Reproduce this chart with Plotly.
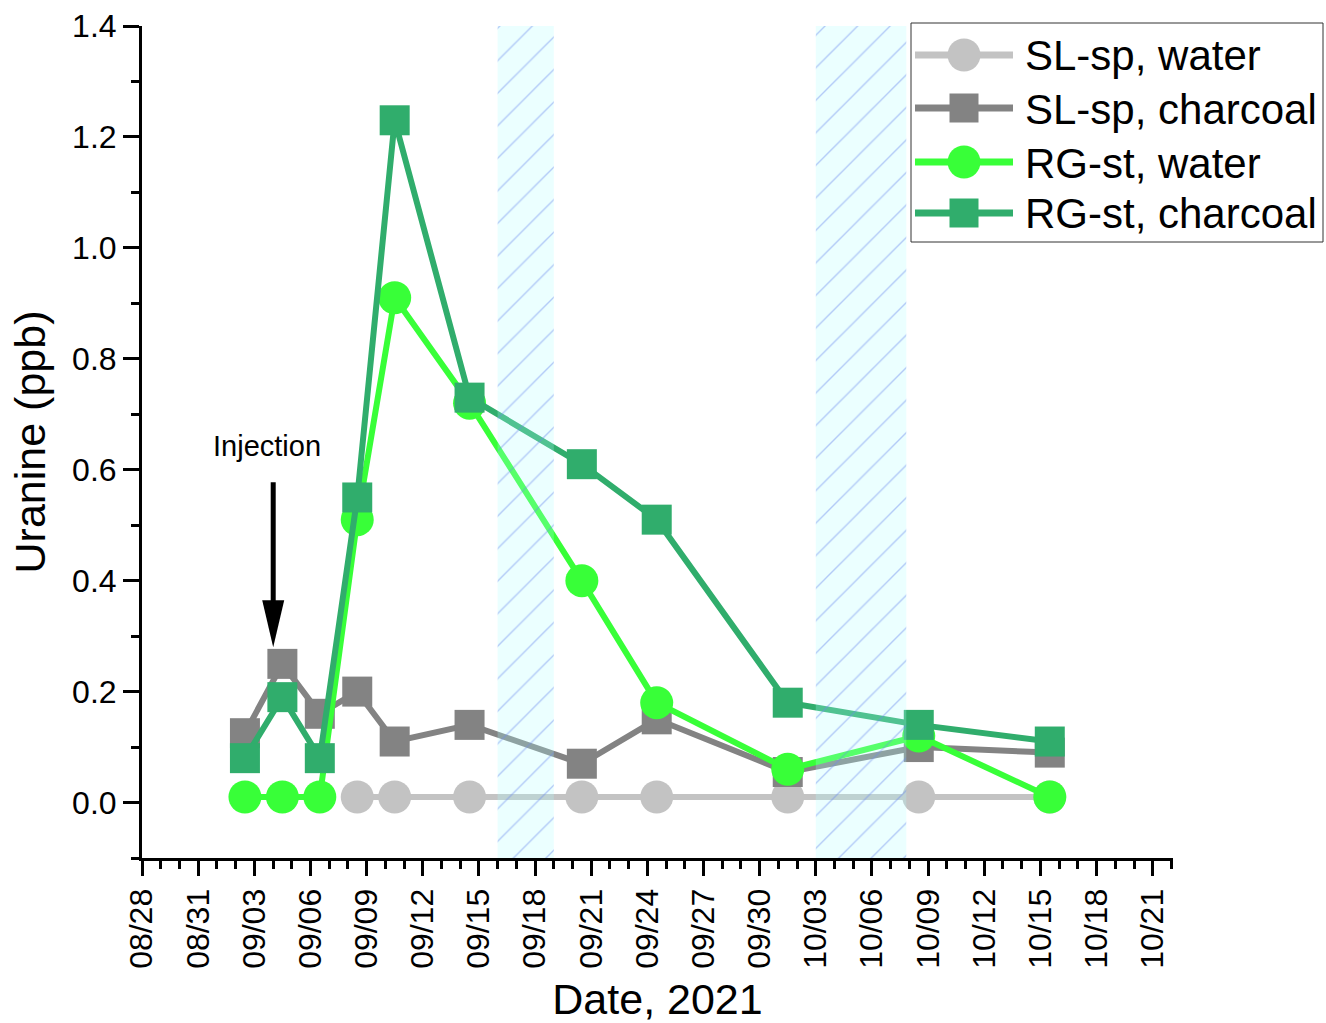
import plotly.graph_objects as go

# ---- data ----
sample_dates = ["2021-09-02 12:00", "2021-09-04 12:00", "2021-09-06 12:00", "2021-09-08 12:00",
                "2021-09-10 12:00", "2021-09-14 12:00", "2021-09-20 12:00", "2021-09-24 12:00",
                "2021-10-01 12:00", "2021-10-08 12:00", "2021-10-15 12:00"]

sl_water_dates = sample_dates[3:]
sl_water = [0.01, 0.01, 0.01, 0.01, 0.01, 0.01, 0.01, 0.01]

sl_charcoal = [0.125, 0.25, 0.16, 0.20, 0.11, 0.14, 0.07, 0.15, 0.055, 0.10, 0.09]
rg_water = [0.01, 0.01, 0.01, 0.51, 0.91, 0.72, 0.40, 0.18, 0.06, 0.12, 0.01]
rg_charcoal = [0.08, 0.19, 0.08, 0.55, 1.23, 0.73, 0.61, 0.51, 0.18, 0.14, 0.11]

series_names = ["SL-sp, water", "SL-sp, charcoal", "RG-st, water", "RG-st, charcoal"]
series_colors = ["#c3c3c3", "#838383", "#38ff38", "#30ad6c"]
series_symbols = ["circle", "square", "circle", "square"]

shade_starts = ["2021-09-16 00:00", "2021-10-03 00:00"]
shade_ends = ["2021-09-19 00:00", "2021-10-07 20:00"]

injection_date = "2021-09-04 00:15"
injection_tip = 0.28
injection_tail = 0.58
injection_label_date = "2021-09-03 16:00"
injection_label_y = 0.643

x_range = ["2021-08-28 00:00", "2021-10-22 02:00"]
y_range = [-0.1, 1.4]

FONT = "Liberation Sans, Arial, sans-serif"
W, H = 1326, 1023
ML, MR, MT, MB = 142, 153, 26, 165
PW, PH = W - ML - MR, H - MT - MB


def px(xpix):
    return (xpix - ML) / PW


def py(ypix):
    return (H - MB - ypix) / PH


fig = go.Figure()

series_data = [(sl_water_dates, sl_water), (sample_dates, sl_charcoal),
               (sample_dates, rg_water), (sample_dates, rg_charcoal)]
for name, (xs, ys), col, sym in zip(series_names, series_data, series_colors, series_symbols):
    fig.add_trace(go.Scatter(
        x=xs, y=ys, name=name, mode="lines+markers", showlegend=False,
        line=dict(color=col, width=6),
        marker=dict(color=col, symbol=sym, size=33 if sym == "circle" else 30, line=dict(width=0)),
    ))

# hatched periods drawn on top of the data
for s, e in zip(shade_starts, shade_ends):
    fig.add_trace(go.Scatter(
        x=[s, e, e, s, s], y=[y_range[0], y_range[0], y_range[1], y_range[1], y_range[0]],
        mode="lines", fill="toself", line=dict(width=0),
        fillcolor="rgba(175,255,255,0.25)",
        fillpattern=dict(shape="/", size=23, solidity=0.06,
                         fgcolor="#6a88ee", fgopacity=0.45,
                         bgcolor="rgba(175,255,255,0.25)"),
        showlegend=False, hoverinfo="skip",
    ))

# injection arrow: shaft + long narrow head
fig.add_annotation(x=injection_date, y=injection_tip + 0.05, ax=injection_date, ay=injection_tail,
                   axref="x", ayref="y", xref="x", yref="y", text="", showarrow=True,
                   arrowhead=0, arrowwidth=5, arrowcolor="black", standoff=0)
fig.add_shape(type="path", xref="x", yref="y", xsizemode="pixel", ysizemode="pixel",
              xanchor=injection_date, yanchor=injection_tip,
              path="M0,0 L-11,47 L11,47 Z", fillcolor="black", line=dict(width=0))
fig.add_annotation(x=injection_label_date, y=injection_label_y, xref="x", yref="y", text="Injection",
                   showarrow=False, font=dict(size=29, color="black", family=FONT))

# ---- legend (drawn to keep the large symbols of the original) ----
fig.add_shape(type="rect", xref="paper", yref="paper",
              x0=px(911), x1=px(1323), y0=py(242), y1=py(23),
              line=dict(color="#333333", width=1), fillcolor="white", layer="above")
row_y = [55, 108, 162, 213]
for name, col, sym, ry in zip(series_names, series_colors, series_symbols, row_y):
    fig.add_shape(type="line", xref="paper", yref="paper",
                  x0=px(915), x1=px(1013), y0=py(ry), y1=py(ry),
                  line=dict(color=col, width=7), layer="above")
    if sym == "circle":
        r = 16.5
        fig.add_shape(type="circle", xref="paper", yref="paper",
                      x0=px(964 - r), x1=px(964 + r), y0=py(ry + r), y1=py(ry - r),
                      fillcolor=col, line=dict(width=0), layer="above")
    else:
        r = 14.5
        fig.add_shape(type="rect", xref="paper", yref="paper",
                      x0=px(964 - r), x1=px(964 + r), y0=py(ry + r), y1=py(ry - r),
                      fillcolor=col, line=dict(width=0), layer="above")
    fig.add_annotation(x=px(1023), y=py(ry + 1), xref="paper", yref="paper", text=name,
                       xanchor="left", yanchor="middle", showarrow=False,
                       font=dict(size=42, color="black", family=FONT))

fig.update_layout(
    width=W, height=H,
    margin=dict(l=ML, r=MR, t=MT, b=MB),
    paper_bgcolor="white", plot_bgcolor="white",
    font=dict(family=FONT, color="black"),
    showlegend=False,
)

fig.update_xaxes(
    type="date", range=x_range, automargin=False,
    tick0="2021-08-28", dtick=3 * 86400000, tickformat="%m/%d", tickangle=-90,
    ticks="outside", ticklen=15, tickwidth=3, tickcolor="black",
    minor=dict(dtick=86400000, ticks="outside", ticklen=8, tickwidth=3, tickcolor="black"),
    showline=True, linewidth=3, linecolor="black", showgrid=False, zeroline=False,
    tickfont=dict(size=32, family=FONT),
    title=dict(text="Date, 2021", font=dict(size=43, family=FONT), standoff=20),
)
fig.update_yaxes(
    range=y_range, tick0=0, dtick=0.2, tickformat=".1f", automargin=False,
    ticks="outside", ticklen=16, tickwidth=3, tickcolor="black",
    minor=dict(dtick=0.1, ticks="outside", ticklen=8, tickwidth=3, tickcolor="black"),
    showline=True, linewidth=3, linecolor="black", showgrid=False, zeroline=False,
    tickfont=dict(size=32, family=FONT),
    title=dict(text="Uranine (ppb)", font=dict(size=43, family=FONT), standoff=14),
)

# remove the default 8px page margin so the figure sits at the window's origin
fig.write_html("out.html", config={"displayModeBar": False},
               post_script="document.body.style.margin='0';")
